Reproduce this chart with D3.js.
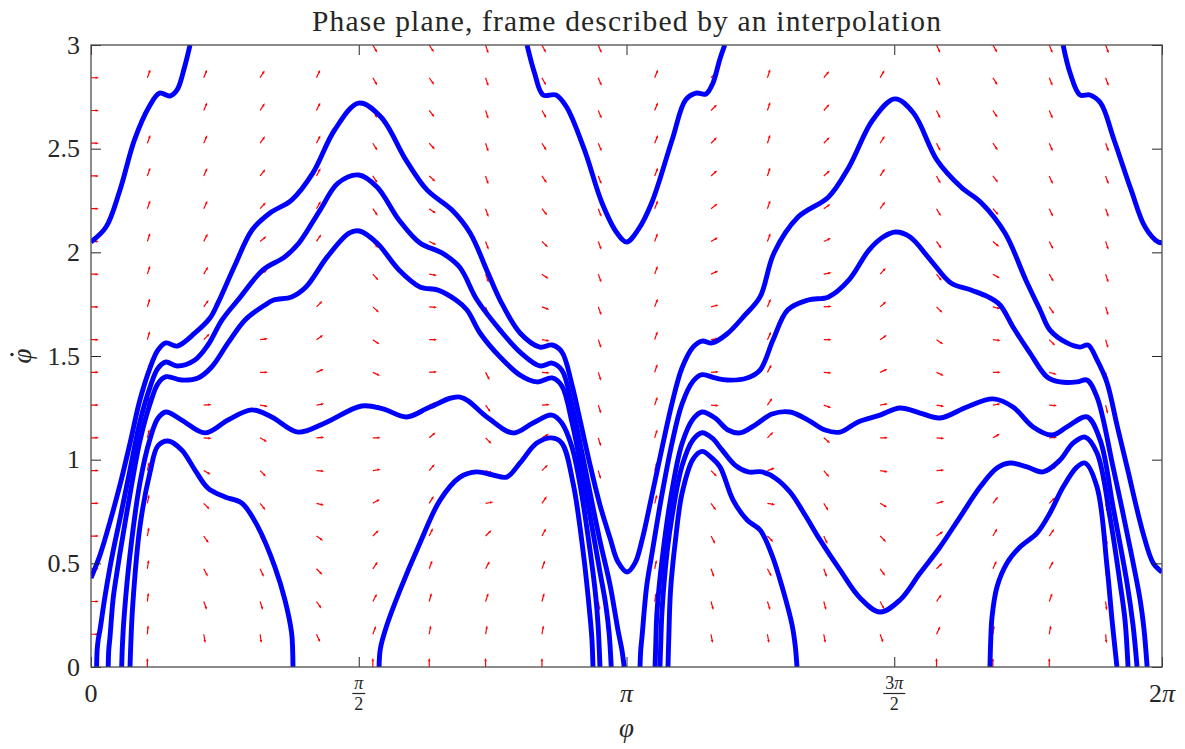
<!DOCTYPE html>
<html>
<head>
<meta charset="utf-8">
<script src="https://cdn.jsdelivr.net/npm/d3@7"></script>
<style>
  body { margin: 0; background: #fff; }
  text { font-family: "Liberation Serif", "DejaVu Serif", serif; fill: #262626; }
</style>
</head>
<body>
<svg id="chart" width="1185" height="749"></svg>
<script>
// Phase plane trajectories (phi, phidot)

const titleText = "Phase plane, frame described by an interpolation";

const xTickVals = [0, Math.PI / 2, Math.PI, 3 * Math.PI / 2, 2 * Math.PI];
const xTickNum = ["0", "\u03c0", "\u03c0", "3\u03c0", "2\u03c0"];
const xTickDen = [null, "2", null, "2", null];
const yTickVals = [0, 0.5, 1, 1.5, 2, 2.5, 3];

// rotating trajectory above everything, cut by the top of the frame
const topLeft = [[0,2.050],[0.088,2.122],[0.170,2.301],[0.255,2.542],[0.340,2.701],[0.402,2.768],[0.463,2.754],[0.505,2.783],[0.549,2.894],[0.581,3.0]];
const topMiddle = [[2.558,3.0],[2.602,2.865],[2.652,2.759],[2.728,2.759],[2.790,2.701],[2.895,2.494],[2.998,2.238],[3.086,2.093],[3.142,2.050],[3.209,2.108],[3.289,2.238],[3.409,2.542],[3.488,2.735],[3.549,2.768],[3.608,2.764],[3.649,2.817],[3.688,2.928],[3.718,3.0]];
const topRight = [[5.703,3.0],[5.744,2.865],[5.802,2.759],[5.861,2.759],[5.923,2.720],[6.002,2.542],[6.102,2.301],[6.184,2.122],[6.260,2.050],[6.283,2.046]];

// rotating trajectory with low minima at 0, pi, 2pi
const orbitA = [[0,0.429],[0.053,0.540],[0.111,0.699],[0.170,0.878],[0.229,1.080],[0.287,1.288],[0.346,1.442],[0.393,1.529],[0.440,1.563],[0.505,1.548],[0.610,1.611],[0.698,1.683],[0.745,1.756],[0.845,1.939],[0.945,2.108],[1.050,2.190],[1.177,2.252],[1.302,2.383],[1.429,2.590],[1.571,2.720],[1.701,2.653],[1.848,2.445],[1.971,2.301],[2.118,2.204],[2.224,2.093],[2.329,1.900],[2.400,1.770],[2.517,1.611],[2.634,1.543],[2.705,1.553],[2.763,1.519],[2.822,1.360],[2.869,1.191],[2.928,0.974],[2.986,0.781],[3.045,0.622],[3.092,0.506],[3.145,0.458],[3.192,0.502],[3.233,0.613],[3.291,0.830],[3.350,1.056],[3.409,1.273],[3.467,1.442],[3.532,1.543],[3.585,1.572],[3.643,1.563],[3.731,1.606],[3.837,1.698],[3.925,1.785],[4.007,1.997],[4.148,2.170],[4.327,2.267],[4.447,2.412],[4.586,2.638],[4.716,2.740],[4.825,2.672],[4.963,2.445],[5.104,2.315],[5.224,2.238],[5.362,2.093],[5.484,1.867],[5.568,1.722],[5.626,1.625],[5.726,1.563],[5.802,1.543],[5.849,1.553],[5.902,1.481],[5.961,1.370],[6.019,1.167],[6.078,0.965],[6.172,0.646],[6.231,0.502],[6.283,0.458]];

// arcs between turning points, left half
const orbitB = [[0.033,0],[0.036,0.08],[0.042,0.13],[0.053,0.18],[0.080,0.33],[0.111,0.479],[0.140,0.60],[0.170,0.715],[0.229,0.952],[0.287,1.183],[0.346,1.349],[0.393,1.441],[0.440,1.471],[0.505,1.452],[0.610,1.481],[0.686,1.553],[0.769,1.674],[0.862,1.770],[1.009,1.915],[1.135,1.977],[1.220,2.045],[1.344,2.204],[1.449,2.334],[1.571,2.373],[1.678,2.315],[1.807,2.156],[1.930,2.045],[2.059,1.997],[2.162,1.929],[2.265,1.770],[2.400,1.625],[2.517,1.519],[2.634,1.452],[2.705,1.466],[2.763,1.431],[2.822,1.263],[2.869,1.081],[2.928,0.839],[2.986,0.608],[3.045,0.396],[3.092,0.176],[3.115,0.08],[3.128,0]];
const orbitC = [[0.101,0],[0.104,0.08],[0.111,0.14],[0.130,0.33],[0.150,0.444],[0.170,0.549],[0.229,0.834],[0.287,1.090],[0.346,1.268],[0.393,1.367],[0.440,1.400],[0.532,1.384],[0.628,1.394],[0.708,1.447],[0.804,1.563],[0.904,1.674],[1.021,1.746],[1.072,1.770],[1.177,1.785],[1.261,1.833],[1.385,1.977],[1.514,2.093],[1.575,2.103],[1.678,2.045],[1.807,1.915],[1.930,1.833],[2.036,1.818],[2.141,1.770],[2.206,1.722],[2.282,1.611],[2.400,1.495],[2.517,1.408],[2.617,1.375],[2.705,1.394],[2.763,1.355],[2.822,1.179],[2.869,0.989],[2.928,0.727],[2.986,0.458],[3.020,0.300],[3.040,0.160],[3.052,0]];
const orbitD = [[0.180,0],[0.184,0.10],[0.195,0.25],[0.229,0.544],[0.287,0.888],[0.346,1.100],[0.393,1.200],[0.440,1.230],[0.532,1.191],[0.669,1.129],[0.804,1.191],[0.943,1.240],[1.060,1.206],[1.214,1.133],[1.373,1.177],[1.588,1.259],[1.713,1.245],[1.852,1.206],[1.989,1.254],[2.165,1.302],[2.322,1.206],[2.476,1.129],[2.593,1.177],[2.703,1.215],[2.762,1.177],[2.822,1.060],[2.869,0.880],[2.928,0.560],[2.960,0.350],[2.975,0.200],[2.986,0]];
const orbitE = [[0.229,0],[0.233,0.10],[0.245,0.30],[0.287,0.677],[0.346,0.938],[0.393,1.067],[0.452,1.090],[0.532,1.047],[0.610,0.950],[0.686,0.863],[0.786,0.820],[0.884,0.791],[0.980,0.675],[1.079,0.482],[1.138,0.323],[1.177,0.164],[1.183,0.08],[1.185,0]];
const orbitF = [[1.690,0],[1.698,0.09],[1.735,0.20],[1.813,0.371],[1.930,0.598],[2.048,0.805],[2.165,0.916],[2.263,0.941],[2.358,0.926],[2.439,0.916],[2.517,0.984],[2.615,1.080],[2.703,1.105],[2.762,1.080],[2.828,0.887],[2.886,0.564],[2.928,0.241],[2.939,0.13],[2.945,0]];

// arcs between turning points, right half
const orbitG = [[3.221,0],[3.225,0.08],[3.233,0.15],[3.260,0.39],[3.291,0.547],[3.350,0.834],[3.409,1.082],[3.467,1.268],[3.532,1.378],[3.585,1.410],[3.661,1.394],[3.731,1.384],[3.849,1.394],[3.925,1.432],[4.001,1.577],[4.087,1.722],[4.207,1.770],[4.327,1.785],[4.447,1.867],[4.564,2.011],[4.647,2.074],[4.720,2.098],[4.805,2.074],[4.925,1.963],[5.045,1.852],[5.163,1.818],[5.263,1.785],[5.333,1.746],[5.409,1.640],[5.509,1.514],[5.609,1.399],[5.685,1.375],[5.785,1.375],[5.843,1.384],[5.902,1.302],[5.996,0.965],[6.078,0.646],[6.155,0.323],[6.178,0.178],[6.196,0]];
const orbitH = [[3.309,0],[3.313,0.10],[3.320,0.26],[3.350,0.515],[3.409,0.854],[3.467,1.077],[3.532,1.196],[3.585,1.230],[3.661,1.201],[3.737,1.143],[3.808,1.129],[3.896,1.167],[3.995,1.220],[4.101,1.230],[4.207,1.191],[4.306,1.143],[4.394,1.133],[4.500,1.182],[4.629,1.215],[4.746,1.249],[4.864,1.225],[4.981,1.201],[5.139,1.254],[5.292,1.293],[5.409,1.254],[5.527,1.158],[5.638,1.119],[5.726,1.158],[5.843,1.206],[5.920,1.095],[5.996,0.772],[6.078,0.405],[6.113,0.203],[6.137,0]];
const orbitI = [[3.338,0],[3.342,0.10],[3.350,0.27],[3.380,0.557],[3.409,0.728],[3.467,0.969],[3.532,1.096],[3.585,1.130],[3.643,1.105],[3.702,1.047],[3.778,0.974],[3.855,0.941],[3.937,0.941],[4.013,0.912],[4.101,0.844],[4.189,0.733],[4.277,0.613],[4.394,0.468],[4.512,0.333],[4.629,0.265],[4.746,0.323],[4.864,0.453],[4.981,0.579],[5.098,0.723],[5.216,0.868],[5.315,0.960],[5.392,0.984],[5.491,0.965],[5.585,0.941],[5.685,0.998],[5.761,1.080],[5.832,1.109],[5.902,1.032],[5.978,0.723],[6.037,0.405],[6.066,0.227],[6.084,0]];
const orbitJ = [[3.385,0],[3.390,0.15],[3.400,0.37],[3.430,0.62],[3.467,0.836],[3.532,1.003],[3.585,1.040],[3.640,1.010],[3.690,0.965],[3.767,0.805],[3.849,0.709],[3.925,0.661],[3.995,0.540],[4.060,0.371],[4.113,0.203],[4.131,0.106],[4.142,0]];
const orbitK = [[5.274,0],[5.278,0.12],[5.286,0.241],[5.315,0.386],[5.374,0.502],[5.450,0.579],[5.550,0.646],[5.626,0.743],[5.703,0.868],[5.785,0.965],[5.832,0.984],[5.902,0.868],[5.961,0.482],[5.990,0.227],[6.019,0]];

const orbits = [topLeft, topMiddle, topRight, orbitA, orbitB, orbitC, orbitD, orbitE, orbitF,
                orbitG, orbitH, orbitI, orbitJ, orbitK];

// quiver grid (20 x 20) and the drawn direction of each arrow, degrees, bottom row first
const gridPhi = [0,0.3307,0.6614,0.9921,1.3228,1.6535,1.9842,2.3149,2.6456,2.9762,3.3069,3.6376,3.9683,4.2990,4.6297,4.9604,5.2911,5.6218,5.9525,6.2832];
const gridV = [0,0.1579,0.3158,0.4737,0.6316,0.7895,0.9474,1.1053,1.2632,1.4211,1.5789,1.7368,1.8947,2.0526,2.2105,2.3684,2.5263,2.6842,2.8421,3.0];
const arrowDeg = [
  [null,0,0,0,0,0,0,0,0,0,0,0,0,0,0,0,0,0,0,0],
  [90,85,83,82,80,79,78,77,76,75,74,73,72,72,71,71,70,70,70,70],
  [-90,-80,-70,-62,-55,-45,-30,-5,5,15,45,55,60,63,65,66,67,67,68,68],
  [-90,-82,-72,-65,-60,-52,-45,-30,-10,0,8,15,30,40,48,52,55,57,58,60],
  [-90,-65,-55,-45,-35,-15,-5,5,10,25,35,45,52,56,60,62,63,64,65,65],
  [90,70,62,55,45,30,10,0,-10,-25,-35,-42,-48,-52,-55,-57,-58,-60,-60,-60],
  [90,80,75,70,65,58,50,40,20,5,0,-5,-10,-25,-35,-42,-48,-52,-55,-57],
  [90,80,72,62,45,10,-20,-45,-55,-62,-65,-68,-70,-70,-71,-72,-72,-72,-72,-72],
  [90,80,75,70,62,55,45,30,5,-5,-10,-20,-35,-45,-52,-56,-58,-60,-62,-63],
  [-90,-82,-80,-78,-76,-75,-74,-73,-72,-72,-71,-70,-70,-70,-69,-69,-68,-68,-68,-68],
  [90,82,80,78,76,75,74,73,72,72,71,70,70,70,69,69,68,68,68,68],
  [-90,-80,-75,-70,-62,-55,-45,-30,-5,5,10,15,25,30,38,42,45,45,46,46],
  [-90,-80,-72,-62,-45,-10,20,45,55,62,65,68,70,70,71,72,72,72,72,72],
  [-90,-80,-75,-70,-65,-58,-50,-40,-20,-5,0,5,12,25,35,42,46,48,50,52],
  [-90,-70,-62,-55,-45,-30,-10,0,10,25,35,42,48,52,55,57,58,60,60,60],
  [90,65,55,45,35,15,5,-5,-10,-25,-35,-45,-52,-56,-60,-62,-63,-64,-65,-65],
  [90,82,72,65,60,52,45,30,10,0,-8,-15,-30,-40,-48,-52,-55,-57,-58,-60],
  [90,80,70,62,55,45,30,5,-5,-15,-45,-55,-60,-63,-65,-66,-67,-67,-68,-68],
  [-90,-85,-83,-82,-80,-79,-78,-77,-76,-75,-74,-73,-72,-72,-71,-71,-70,-70,-70,-70],
  [null,0,0,0,0,0,0,0,0,0,0,0,0,0,0,0,0,0,0,0]
];

const svg = d3.select("#chart");
const plot = {left: 91, right: 1162, top: 45, bottom: 667};

const x = d3.scaleLinear().domain([0, 2 * Math.PI]).range([plot.left, plot.right]);
const y = d3.scaleLinear().domain([0, 3]).range([plot.bottom, plot.top]);

svg.append("defs").append("clipPath").attr("id", "plotClip")
  .append("rect")
    .attr("x", plot.left).attr("y", plot.top)
    .attr("width", plot.right - plot.left).attr("height", plot.bottom - plot.top);

// quiver arrows (normalised, so all about the same length)
const arrowPath = (p, v, deg) => {
  const t = deg * Math.PI / 180, c = Math.cos(t), s = Math.sin(t);
  const len = 1 / Math.sqrt((c / 6.2) ** 2 + (s / 7.4) ** 2);
  const x0 = x(p), y0 = y(v);
  const x1 = x0 + len * c, y1 = y0 - len * s;
  const h = 1.8, a = 0.4;
  const hx1 = x1 - h * Math.cos(t - a), hy1 = y1 + h * Math.sin(t - a);
  const hx2 = x1 - h * Math.cos(t + a), hy2 = y1 + h * Math.sin(t + a);
  return `M${x0},${y0}L${x1},${y1}M${hx1},${hy1}L${x1},${y1}L${hx2},${hy2}`;
};

const arrows = [];
gridPhi.forEach((p, i) => gridV.forEach((v, j) => {
  if (arrowDeg[i][j] !== null) arrows.push({p, v, deg: arrowDeg[i][j]});
}));

svg.append("g")
    .attr("clip-path", "url(#plotClip)")
  .selectAll("path")
  .data(arrows)
  .join("path")
    .attr("d", d => arrowPath(d.p, d.v, d.deg))
    .attr("fill", "none")
    .attr("stroke", "#ff0000")
    .attr("stroke-width", 1.2);

// trajectories
const line = d3.line()
  .x(d => x(d[0]))
  .y(d => y(d[1]))
  .curve(d3.curveCatmullRom.alpha(0.5));

svg.append("g")
    .attr("clip-path", "url(#plotClip)")
  .selectAll("path")
  .data(orbits)
  .join("path")
    .attr("d", line)
    .attr("fill", "none")
    .attr("stroke", "#0000ff")
    .attr("stroke-width", 4.9)
    .attr("stroke-linejoin", "round");

// axes, ticks pointing inward on all four sides
const tickLen = 10;
const styleAxis = g => {
  g.select(".domain").remove();
  g.selectAll(".tick line").attr("stroke", "#262626").attr("stroke-width", 1);
};

svg.append("g")
    .attr("transform", `translate(${plot.left},0)`)
    .call(d3.axisLeft(y).tickValues(yTickVals).tickSize(-tickLen).tickPadding(11)
      .tickFormat(d3.format("")))
    .call(styleAxis)
    .call(g => g.selectAll(".tick text")
      .style("font-family", "Liberation Serif").style("font-size", "26px").attr("fill", "#262626"));

svg.append("g")
    .attr("transform", `translate(${plot.right},0)`)
    .call(d3.axisRight(y).tickValues(yTickVals).tickSize(-tickLen).tickFormat(""))
    .call(styleAxis);

svg.append("g")
    .attr("transform", `translate(0,${plot.top})`)
    .call(d3.axisTop(x).tickValues(xTickVals).tickSize(-tickLen).tickFormat(""))
    .call(styleAxis);

svg.append("g")
    .attr("transform", `translate(0,${plot.bottom})`)
    .call(d3.axisBottom(x).tickValues(xTickVals).tickSize(-tickLen).tickFormat(""))
    .call(styleAxis);

// frame
svg.append("rect")
  .attr("x", plot.left).attr("y", plot.top)
  .attr("width", plot.right - plot.left).attr("height", plot.bottom - plot.top)
  .attr("fill", "none")
  .attr("stroke", "#4d4d4d")
  .attr("stroke-width", 1.3);

// x tick labels: plain or stacked fractions
const writeMath = (sel, str) => {
  // digits upright, pi italic
  str.split("").forEach(ch => {
    sel.append("tspan").text(ch).style("font-style", ch === "\u03c0" ? "italic" : "normal");
  });
};

const xLabels = svg.append("g").attr("class", "xlabels");
xTickVals.forEach((val, i) => {
  const cx = x(val);
  if (xTickDen[i] === null) {
    const t = xLabels.append("text")
      .attr("x", cx).attr("y", 702)
      .attr("text-anchor", "middle")
      .style("font-size", "26px");
    writeMath(t, xTickNum[i]);
  } else {
    const num = xLabels.append("text")
      .attr("x", cx).attr("y", 689)
      .attr("text-anchor", "middle")
      .style("font-size", "18px");
    writeMath(num, xTickNum[i]);
    const w = xTickNum[i].length > 1 ? 22 : 13;
    xLabels.append("line")
      .attr("x1", cx - w / 2).attr("x2", cx + w / 2)
      .attr("y1", 693.5).attr("y2", 693.5)
      .attr("stroke", "#262626").attr("stroke-width", 1.2);
    xLabels.append("text")
      .attr("x", cx).attr("y", 710)
      .attr("text-anchor", "middle")
      .style("font-size", "18px")
      .text(xTickDen[i]);
  }
});

// axis titles
svg.append("text")
  .attr("x", (plot.left + plot.right) / 2).attr("y", 737)
  .attr("text-anchor", "middle")
  .style("font-size", "27px").style("font-style", "italic")
  .text("\u03c6");

// y label: phi with a dot above it, turned to read upwards
const yLab = svg.append("g").attr("transform", "translate(31,356) rotate(-90)");
yLab.append("text")
  .attr("text-anchor", "middle")
  .style("font-size", "27px").style("font-style", "italic")
  .text("\u03c6");
yLab.append("circle")
  .attr("cx", 1.5).attr("cy", -19)
  .attr("r", 1.7)
  .attr("fill", "#262626");

// title
svg.append("text")
  .attr("x", (plot.left + plot.right) / 2).attr("y", 31)
  .attr("text-anchor", "middle")
  .attr("textLength", 629)
  .attr("lengthAdjust", "spacing")
  .style("font-size", "29.5px")
  .text(titleText);
</script>
</body>
</html>
